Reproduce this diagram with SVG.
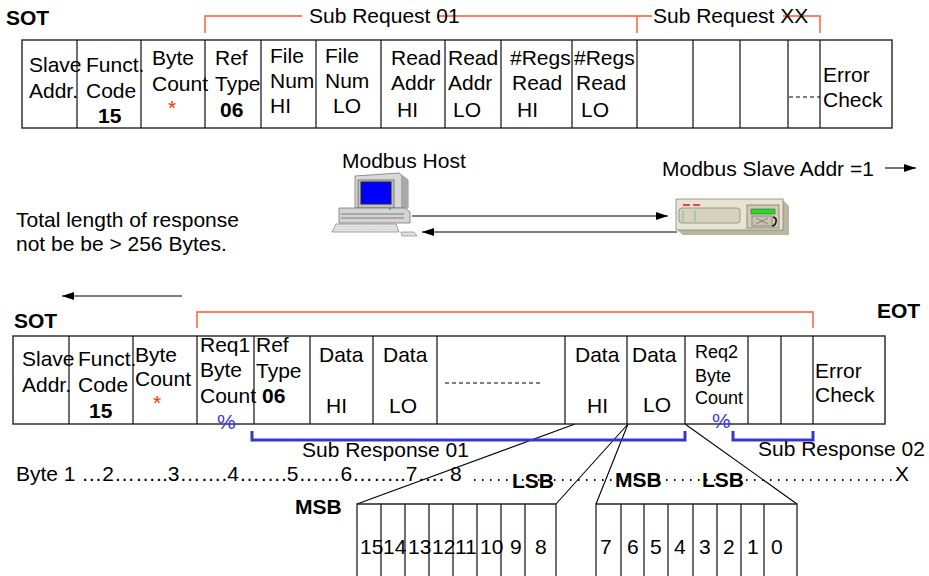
<svg xmlns="http://www.w3.org/2000/svg" width="929" height="576" viewBox="0 0 929 576">
<defs>
<style>
text{font-family:"Liberation Sans",Arial,sans-serif;fill:#000}
.t{font-size:21px}
.s{font-size:18px}
.b{font-weight:bold}
.frame{fill:#fff;stroke:#222;stroke-width:1.4}
.grid{stroke:#222;stroke-width:1.3;fill:none}
.red{stroke:#ff5533;stroke-width:1.4;fill:none}
.blue{stroke:#3737cc;stroke-width:3;fill:none}
.ln{stroke:#000;stroke-width:1.1;fill:none}
.dash{stroke:#000;stroke-width:1;stroke-dasharray:4 3;fill:none}
.dots{stroke:#000;stroke-width:2;stroke-dasharray:1.5 6.5;fill:none}
.star{fill:#ff3300}
.pct{fill:#3b3be0}
</style>
<marker id="ah" viewBox="0 0 12 8" refX="12" refY="4" markerWidth="12" markerHeight="8" orient="auto" markerUnits="userSpaceOnUse"><path d="M0,0L12,4L0,8z" fill="#000"/></marker>
</defs>

<!-- request frame -->
<g id="request">
<text class="t b" x="6" y="25">SOT</text>
<path class="red" d="M205,33V16H302M437,16H637M637,33V16H652M783,16H820V33"/>
<text class="t" x="309" y="23">Sub Request 01</text>
<text class="t" x="653" y="23">Sub Request XX</text>
<rect class="frame" x="22" y="40" width="870" height="88"/>
<path class="grid" d="M77,40V128M141,40V128M205,40V128M261,40V128M316,40V128M381,40V128M445,40V128M501,40V128M572,40V128M637,40V128M693,40V128M740,40V128M788,40V128M820,40V128"/>
<path class="dash" d="M789,97H820"/>
<text class="t" x="29" y="72">Slave</text><text class="t" x="29" y="98">Addr.</text>
<text class="t" x="86" y="72">Funct.</text><text class="t" x="86" y="98">Code</text><text class="t b" x="98" y="123">15</text>
<text class="t" x="152" y="65">Byte</text><text class="t" x="152" y="91">Count</text><text class="t star" x="168" y="115">*</text>
<text class="t" x="215" y="65">Ref</text><text class="t" x="215" y="91">Type</text><text class="t b" x="220" y="117">06</text>
<text class="t" x="270" y="63">File</text><text class="t" x="270" y="88">Num</text><text class="t" x="270" y="113">HI</text>
<text class="t" x="325" y="63">File</text><text class="t" x="325" y="88">Num</text><text class="t" x="333" y="113">LO</text>
<text class="t" x="391" y="65">Read</text><text class="t" x="391" y="90">Addr</text><text class="t" x="397" y="117">HI</text>
<text class="t" x="448" y="65">Read</text><text class="t" x="448" y="90">Addr</text><text class="t" x="453" y="117">LO</text>
<text class="t" x="510" y="65">#Regs</text><text class="t" x="512" y="90">Read</text><text class="t" x="517" y="117">HI</text>
<text class="t" x="574" y="65">#Regs</text><text class="t" x="576" y="90">Read</text><text class="t" x="581" y="117">LO</text>
<text class="t" x="823" y="82">Error</text><text class="t" x="823" y="107">Check</text>
</g>

<!-- host computer -->
<g id="host">
<text class="t" x="342" y="168">Modbus Host</text>
<path d="M355,176L399,173L408,180V208H355Z" fill="#d8d8d8" stroke="#777" stroke-width="0.8"/>
<path d="M399,173L408,180V208L401,210V176Z" fill="#a8a8a8"/>
<rect x="358" y="180" width="36" height="28" fill="#c0c0c0" stroke="#666" stroke-width="0.8"/>
<rect x="361" y="182" width="30" height="22" fill="#0000ff" stroke="#222" stroke-width="1"/>
<path d="M339,208H405L410,212V223H339Z" fill="#d4d4d4" stroke="#777" stroke-width="0.8"/>
<path d="M341,214H404M341,218H404" stroke="#666" stroke-width="0.8"/>
<circle cx="390" cy="209" r="0.9" fill="#2a2"/>
<path d="M336,224H396L399,232H332Z" fill="#e6e6e6" stroke="#888" stroke-width="0.8"/>
<path d="M336,227H396M335,229.5H397" stroke="#aaa" stroke-width="0.6" stroke-dasharray="1.2 1"/>
<path d="M401,232H414L417,236H402Z" fill="#e0e0e0" stroke="#888" stroke-width="0.7"/>
</g>

<!-- slave device -->
<g id="slave">
<text class="t" x="662" y="176">Modbus Slave Addr =1</text>
<path class="ln" d="M885,168H916" marker-end="url(#ah)" stroke-width="1.3"/>
<path d="M676,199H782L789,206V235H683L676,229Z" fill="#b8b5a0"/>
<rect x="676" y="199" width="107" height="31" fill="#e7e4d4" stroke="#8a8878" stroke-width="0.8"/>
<path d="M683,205H690M693,205H700" stroke="#e01020" stroke-width="1.6"/>
<rect x="679" y="208" width="61" height="15" rx="3" fill="#d6d2bd" stroke="#8a8878" stroke-width="0.8"/>
<path d="M683,211V221M695,211V221" stroke="#20b0a0" stroke-width="1.2" stroke-dasharray="1 1.2"/>
<rect x="747" y="205" width="32" height="23" fill="#d0ccb8" stroke="#7a7868" stroke-width="0.8"/>
<rect x="751" y="209" width="24" height="5" fill="#22dd22" stroke="#555" stroke-width="0.6"/>
<rect x="752" y="216" width="20" height="10" fill="#c8c4b0" stroke="#666" stroke-width="0.6"/>
<path d="M756,218L768,224M768,218L756,224" stroke="#666" stroke-width="0.7"/>
<path d="M773,217q4,1 3,5q-1,4 -4,4" fill="none" stroke="#111" stroke-width="1.6"/>
</g>

<!-- request / response links -->
<g id="connectors">
<path class="ln" d="M412,216H668" marker-end="url(#ah)"/>
<path class="ln" d="M677,232H422" marker-end="url(#ah)"/>
<path class="ln" d="M182,296H62" marker-end="url(#ah)"/>
<path class="ln" d="M575,424L357,504"/>
<path class="ln" d="M628,424L556,504"/>
<path class="ln" d="M628,424L596,504"/>
<path class="ln" d="M685,424L797,504"/>
</g>

<g id="note">
<text class="t" x="16" y="227">Total length of response</text>
<text class="t" x="16" y="251">not be be &gt; 256 Bytes.</text>
</g>

<!-- response frame -->
<g id="response">
<text class="t b" x="14" y="328">SOT</text>
<text class="t b" x="877" y="318">EOT</text>
<path class="red" d="M197,328V312H813V328"/>
<rect class="frame" x="13" y="336" width="872" height="88"/>
<path class="grid" d="M69,336V424M133,336V424M197,336V424M254,336V424M310,336V424M373,336V424M437,336V424M565,336V424M627,336V424M685,336V424M748,336V424M781,336V424M813,336V424"/>
<path class="dash" d="M445,383H540"/>
<text class="t" x="22" y="366">Slave</text><text class="t" x="22" y="392">Addr.</text>
<text class="t" x="78" y="366">Funct.</text><text class="t" x="78" y="392">Code</text><text class="t b" x="89" y="418">15</text>
<text class="t" x="135" y="362">Byte</text><text class="t" x="135" y="386">Count</text><text class="t star" x="153" y="410">*</text>
<text class="t" x="200" y="352">Req1</text><text class="t" x="200" y="377">Byte</text><text class="t" x="200" y="403">Count</text><text class="t pct" x="217" y="429">%</text>
<text class="t" x="256" y="352">Ref</text><text class="t" x="256" y="378">Type</text><text class="t b" x="262" y="403">06</text>
<text class="t" x="319" y="362">Data</text><text class="t" x="326" y="413">HI</text>
<text class="t" x="383" y="362">Data</text><text class="t" x="389" y="413">LO</text>
<text class="t" x="575" y="362">Data</text><text class="t" x="587" y="413">HI</text>
<text class="t" x="632" y="362">Data</text><text class="t" x="643" y="412">LO</text>
<text class="s" x="695" y="358">Req2</text><text class="s" x="695" y="382">Byte</text><text class="s" x="695" y="404">Count</text><text class="t pct" x="712" y="428">%</text>
<text class="t" x="815" y="378">Error</text><text class="t" x="815" y="402">Check</text>
<path class="blue" d="M252,431V440H685V431"/>
<path class="blue" d="M733,431V440H813V431"/>
<text class="t" x="302" y="457">Sub Response 01</text>
<text class="t" x="758" y="456">Sub Response 02</text>
</g>

<!-- byte count ruler -->
<g id="ruler">
<text class="t" x="16" y="481">Byte 1 …2……..3…….4…….5……6……..7…. 8</text>
<path class="dots" d="M474,480H893"/>
<text class="t" x="895" y="481">X</text>
<text class="t b" x="512" y="488" font-size="20">LSB</text>
<text class="t b" x="615" y="487" font-size="20">MSB</text>
<text class="t b" x="702" y="487" font-size="20">LSB</text>
</g>

<!-- bit fields -->
<g id="bits-hi">
<text class="t b" x="295" y="514">MSB</text>
<path class="grid" d="M357,576V504H556V576M381,504V576M405,504V576M429,504V576M453,504V576M477,504V576M501,504V576M525,504V576"/>
<text class="t" x="360" y="554">15</text><text class="t" x="383" y="554">14</text><text class="t" x="408" y="554">13</text><text class="t" x="432" y="554">12</text>
<text class="t" x="455" y="554">11</text><text class="t" x="480" y="554">10</text><text class="t" x="510" y="554">9</text><text class="t" x="535" y="554">8</text>
</g>
<g id="bits-lo">
<path class="grid" d="M596,576V504H797V576M621,504V576M644,504V576M668,504V576M693,504V576M717,504V576M741,504V576M764,504V576"/>
<text class="t" x="600" y="554">7</text><text class="t" x="627" y="554">6</text><text class="t" x="650" y="554">5</text><text class="t" x="674" y="554">4</text>
<text class="t" x="699" y="554">3</text><text class="t" x="723" y="554">2</text><text class="t" x="747" y="554">1</text><text class="t" x="771" y="554">0</text>
</g>
</svg>
